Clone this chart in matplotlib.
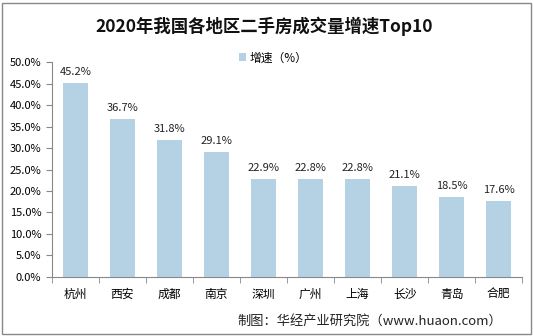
import matplotlib.pyplot as plt
from matplotlib.ticker import FuncFormatter, MultipleLocator
from matplotlib.patches import Rectangle

plt.rcParams['font.family'] = ['Noto Sans CJK SC', 'DejaVu Sans']

cities = ['杭州', '西安', '成都', '南京', '深圳', '广州', '上海', '长沙', '青岛', '合肥']
growth = [45.2, 36.7, 31.8, 29.1, 22.9, 22.8, 22.8, 21.1, 18.5, 17.6]

fig = plt.figure(figsize=(5.34, 3.36), dpi=100)
ax = fig.add_axes([0.097, 0.176, 0.881, 0.639])

x = range(len(cities))
bars = ax.bar(x, growth, width=0.52, color='#b4d2e3', label='增速（%）')
for xi, v in zip(x, growth):
    ax.text(xi, v + 1.4, f'{v:.1f}%', ha='center', va='bottom', fontsize=8, color='#222222')

ax.set_xlim(-0.5, len(cities) - 0.5)
ax.set_ylim(0, 50)
ax.yaxis.set_major_locator(MultipleLocator(5))
ax.yaxis.set_major_formatter(FuncFormatter(lambda v, p: f'{v:.1f}%'))
ax.set_xticks(list(x))
ax.set_xticklabels(cities)
ax.tick_params(axis='x', length=0, labelsize=8.5, pad=8)
ax.set_xticks([i - 0.5 for i in range(len(cities) + 1)], minor=True)
ax.tick_params(axis='x', which='minor', length=4, color='#888888')
ax.tick_params(axis='y', labelsize=8, length=4, color='#888888')
for s in ['top', 'right']:
    ax.spines[s].set_visible(False)
for s in ['left', 'bottom']:
    ax.spines[s].set_color('#888888')

fig.text(0.495, 0.922, '2020年我国各地区二手房成交量增速Top10', ha='center', va='center',
         fontsize=12.5, fontweight='bold', color='#111111')
ax.legend(loc='upper center', bbox_to_anchor=(0.47, 1.1), frameon=False, fontsize=8.5,
          handlelength=0.6, handleheight=0.6, handletextpad=0.3)
fig.text(0.94, 0.045, '制图：华经产业研究院（www.huaon.com）', ha='right', va='center',
         fontsize=9.5, color='#222222')

fig.patches.append(Rectangle((0.004, 0.006), 0.99, 0.985, transform=fig.transFigure,
                             fill=False, edgecolor='#888888', linewidth=1))

fig.savefig('out.png', dpi=100)
